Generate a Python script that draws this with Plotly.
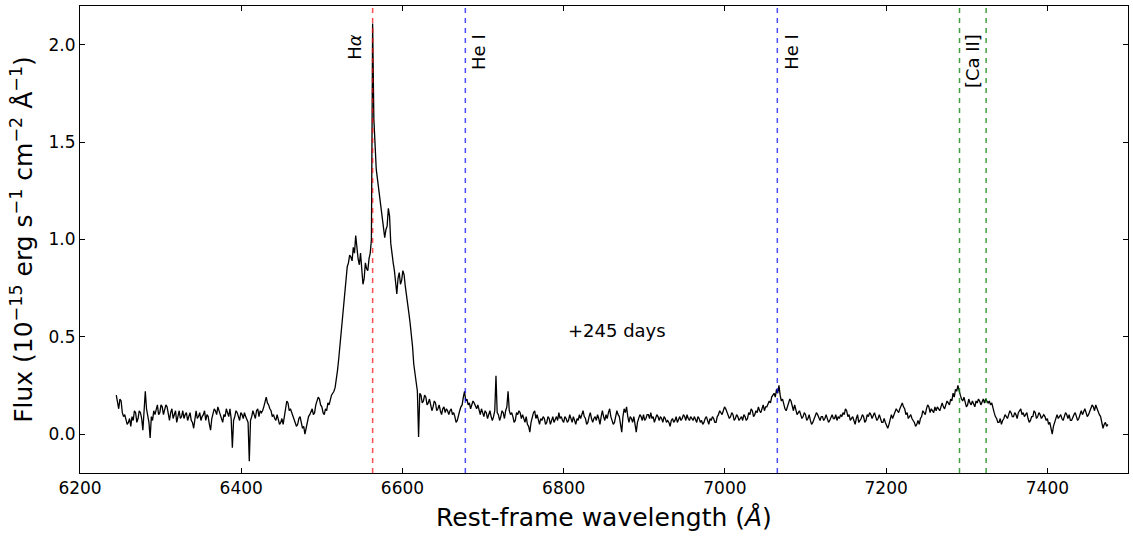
import numpy as np
import plotly.graph_objects as go

# spectrum, 1.5 A sampling, in four pieces
step = 1.5

blue_start = 6245.0
flux_blue = [
    0.20, 0.15, 0.13, 0.18, 0.17, 0.11, 0.09, 0.10, 0.08, 0.05, 0.06, 0.08, 0.04, 0.09, 0.07, 0.12, 0.11, 0.06, 0.08, 0.12,
    0.11, 0.08, 0.02, 0.12, 0.22, 0.13, 0.09, 0.06, -0.02, 0.09, 0.07, 0.12, 0.10, 0.13, 0.15, 0.10, 0.11, 0.15, 0.14, 0.10,
    0.12, 0.15, 0.14, 0.09, 0.07, 0.11, 0.13, 0.08, 0.10, 0.12, 0.06, 0.10, 0.12, 0.08, 0.09, 0.12, 0.08, 0.10, 0.11, 0.07,
    0.09, 0.11, 0.07, 0.06, 0.03, 0.09, 0.12, 0.08, 0.09, 0.11, 0.07, 0.09, 0.10, 0.12, 0.07, 0.10, 0.09, 0.05, 0.02, 0.08,
    0.10, 0.13, 0.12, 0.10, 0.14, 0.12, 0.10, 0.08, 0.06, 0.10, 0.09, 0.13, 0.11, 0.09, 0.13, 0.08, -0.07, 0.07, 0.09, 0.12,
    0.11, 0.09, 0.07, 0.11, 0.10, 0.08, 0.11, 0.09, 0.07, 0.06, -0.14, 0.07, 0.09, 0.12, 0.10, 0.08, 0.12, 0.13, 0.09, 0.12,
    0.11, 0.12, 0.14, 0.17, 0.19, 0.16, 0.15, 0.13, 0.12, 0.09, 0.10, 0.08, 0.07, 0.10, 0.08, 0.05, 0.06, 0.08, 0.05, 0.10,
    0.14, 0.17, 0.16, 0.12, 0.13, 0.11, 0.10, 0.07, 0.06, 0.04, 0.05, 0.08, 0.09, 0.05, 0.03, 0.04, 0.00, 0.03, 0.06, 0.09,
    0.10, 0.12, 0.13, 0.10, 0.11, 0.15, 0.17, 0.19, 0.18, 0.15, 0.14, 0.11, 0.10, 0.13, 0.12, 0.16, 0.15, 0.18, 0.20, 0.21,
]

halpha_start = 6515.0
flux_halpha = [
    0.22, 0.24, 0.28, 0.33, 0.39, 0.46, 0.53, 0.61, 0.68, 0.76, 0.82, 0.86, 0.88, 0.92, 0.91, 0.89, 0.96, 0.93, 1.02, 0.95,
    0.90, 0.87, 0.93, 0.85, 0.77, 0.80, 0.88, 0.85, 0.84, 0.90, 0.93, 1.00, 2.11, 1.62, 1.45, 1.36, 1.31, 1.26, 1.20, 1.17,
    1.12, 1.06, 1.01, 1.05, 1.07, 1.16, 1.12, 0.98, 0.92, 0.88, 0.84, 0.78, 0.72, 0.80, 0.83, 0.77, 0.79, 0.84, 0.82, 0.76,
    0.72, 0.68, 0.62, 0.57, 0.52, 0.45, 0.36, 0.31, 0.26, 0.22, -0.015, 0.21, 0.20, 0.16, 0.17, 0.20,
]

mid_start = 6629.0
flux_mid = [
    0.19, 0.15, 0.16, 0.18, 0.15, 0.12, 0.14, 0.17, 0.16, 0.12, 0.13, 0.15, 0.12, 0.10, 0.13, 0.14, 0.11, 0.13, 0.12, 0.10,
    0.12, 0.13, 0.10, 0.11, 0.09, 0.06, 0.07, 0.10, 0.12, 0.14, 0.15, 0.19, 0.22, 0.17, 0.18, 0.15, 0.16, 0.13, 0.15, 0.17,
    0.16, 0.14, 0.13, 0.15, 0.12, 0.10, 0.13, 0.11, 0.09, 0.12, 0.11, 0.08, 0.10, 0.12, 0.09, 0.07, 0.09, 0.12, 0.30, 0.11,
    0.10, 0.07, 0.09, 0.12, 0.11, 0.08, 0.12, 0.14, 0.22, 0.12, 0.10, 0.11, 0.09, 0.06, 0.07, 0.11, 0.10, 0.12, 0.11, 0.08,
    0.10, 0.08, 0.06, 0.09, 0.05, 0.04, 0.01, 0.06, 0.09, 0.11, 0.12, 0.08, 0.10, 0.07, 0.05, 0.08, 0.07, 0.09, 0.08, 0.05,
    0.06, 0.09, 0.08, 0.05, 0.07, 0.09, 0.06, 0.08, 0.09, 0.07, 0.11, 0.08, 0.09, 0.07, 0.06, 0.09, 0.08, 0.06, 0.07, 0.10,
    0.08, 0.06, 0.09, 0.07, 0.05, 0.08, 0.07, 0.10, 0.08, 0.10, 0.12, 0.09, 0.08, 0.05, 0.06, 0.09, 0.11, 0.08, 0.06, 0.08,
    0.09, 0.07, 0.10, 0.08, 0.05, 0.09, 0.12, 0.09, 0.07, 0.10, 0.08, 0.11, 0.13, 0.09, 0.07, 0.05, 0.06, 0.10, 0.12, 0.10,
    0.09, 0.05, 0.01, 0.09, 0.13, 0.11, 0.14, 0.09, 0.06, 0.09, 0.08, 0.06, 0.09, 0.05, 0.01, 0.06, 0.08, 0.10, 0.09, 0.07,
    0.10, 0.07, 0.08, 0.10, 0.10, 0.08, 0.11, 0.08, 0.09, 0.06, 0.08, 0.10, 0.09, 0.07, 0.09, 0.08, 0.06, 0.09, 0.08, 0.06,
    0.07, 0.06, 0.04, 0.07, 0.08, 0.06, 0.07, 0.09, 0.06, 0.08, 0.09, 0.07, 0.08, 0.10, 0.09, 0.07, 0.10, 0.08, 0.07, 0.09,
    0.08, 0.07, 0.09, 0.07, 0.06, 0.09, 0.08, 0.06, 0.07, 0.05, 0.06, 0.08, 0.09, 0.07, 0.05, 0.08, 0.07, 0.09, 0.08, 0.06,
    0.06, 0.09, 0.10, 0.12, 0.11, 0.10, 0.12, 0.14, 0.13, 0.11, 0.10, 0.08, 0.09, 0.11, 0.10, 0.07, 0.08, 0.10, 0.09, 0.07,
    0.08, 0.09,
]

red_start = 7022.0
flux_red = [
    0.07, 0.10, 0.09, 0.07, 0.08, 0.11, 0.10, 0.13, 0.12, 0.09, 0.10, 0.12, 0.11, 0.14, 0.12, 0.11, 0.13, 0.15, 0.12, 0.14,
    0.14, 0.16, 0.17, 0.16, 0.19, 0.20, 0.21, 0.19, 0.23, 0.21, 0.25, 0.20, 0.17, 0.18, 0.15, 0.13, 0.12, 0.14, 0.16, 0.18,
    0.17, 0.14, 0.12, 0.15, 0.13, 0.10, 0.11, 0.12, 0.10, 0.08, 0.09, 0.11, 0.10, 0.07, 0.08, 0.10, 0.07, 0.05, 0.06, 0.08,
    0.09, 0.11, 0.10, 0.08, 0.07, 0.09, 0.09, 0.07, 0.08, 0.10, 0.08, 0.06, 0.07, 0.09, 0.10, 0.08, 0.08, 0.10, 0.07, 0.09,
    0.08, 0.10, 0.09, 0.11, 0.10, 0.13, 0.12, 0.09, 0.10, 0.07, 0.08, 0.09, 0.07, 0.05, 0.08, 0.10, 0.06, 0.07, 0.08, 0.10,
    0.09, 0.06, 0.07, 0.10, 0.09, 0.11, 0.10, 0.08, 0.10, 0.11, 0.09, 0.07, 0.08, 0.10, 0.08, 0.06, 0.06, 0.08, 0.06, 0.04,
    0.03, 0.05, 0.07, 0.10, 0.08, 0.10, 0.11, 0.13, 0.12, 0.11, 0.13, 0.15, 0.16, 0.14, 0.13, 0.10, 0.11, 0.08, 0.09, 0.10,
    0.08, 0.07, 0.06, 0.04, 0.05, 0.07, 0.05, 0.08, 0.09, 0.12, 0.11, 0.10, 0.13, 0.15, 0.14, 0.11, 0.13, 0.12, 0.11, 0.14,
    0.12, 0.14, 0.13, 0.12, 0.14, 0.16, 0.14, 0.13, 0.15, 0.17, 0.16, 0.15, 0.18, 0.17, 0.21, 0.19, 0.23, 0.22, 0.25, 0.22,
    0.20, 0.18, 0.17, 0.19, 0.17, 0.14, 0.15, 0.18, 0.16, 0.15, 0.17, 0.15, 0.14, 0.17, 0.16, 0.18, 0.17, 0.15, 0.17, 0.18,
    0.16, 0.18, 0.17, 0.16, 0.17, 0.15, 0.16, 0.13, 0.11, 0.09, 0.08, 0.06, 0.06, 0.08, 0.05, 0.07, 0.08, 0.10, 0.09, 0.08,
    0.10, 0.12, 0.11, 0.09, 0.09, 0.11, 0.10, 0.08, 0.11, 0.12, 0.13, 0.10, 0.11, 0.09, 0.10, 0.11, 0.08, 0.06, 0.07, 0.09,
    0.09, 0.12, 0.11, 0.08, 0.09, 0.11, 0.10, 0.08, 0.09, 0.10, 0.09, 0.07, 0.08, 0.05, 0.06, 0.03, 0.00, 0.04, 0.06, 0.09,
    0.10, 0.08, 0.09, 0.10, 0.08, 0.07, 0.09, 0.11, 0.10, 0.08, 0.10, 0.07, 0.07, 0.09, 0.10, 0.11, 0.09, 0.07, 0.08, 0.10,
    0.12, 0.10, 0.12, 0.13, 0.11, 0.09, 0.10, 0.12, 0.13, 0.15, 0.14, 0.12, 0.15, 0.13, 0.12, 0.10, 0.09, 0.05, 0.03, 0.05,
    0.06, 0.04, 0.05,
]

# line markers: rest wavelengths, labels, colours
line_waves = [6563, 6678, 7065, 7291, 7324]
line_colors = ["rgba(255,0,0,0.7)", "rgba(0,0,255,0.7)", "rgba(0,0,255,0.7)",
               "rgba(0,128,0,0.75)", "rgba(0,128,0,0.75)"]
label_texts = ["H<i>α</i>", "He I", "He I", "[Ca II]"]
label_x = [6541, 6695, 7083, 7308]
label_y = [2.067, 2.067, 2.067, 2.067]

epoch = "+245 days"

wave, flux = [], []
for start, vals in [(blue_start, flux_blue), (halpha_start, flux_halpha),
                    (mid_start, flux_mid), (red_start, flux_red)]:
    wave.extend(start + step * np.arange(len(vals)))
    flux.extend(vals)

fig = go.Figure()
fig.add_trace(go.Scatter(x=wave, y=flux, mode="lines",
                         line=dict(color="black", width=1.3), showlegend=False))

for w, c in zip(line_waves, line_colors):
    fig.add_shape(type="line", x0=w, x1=w, y0=0, y1=1, xref="x", yref="paper",
                  line=dict(color=c, width=1.5, dash="5px,5px"))

for t, x, y in zip(label_texts, label_x, label_y):
    fig.add_annotation(x=x, y=y, text=t, textangle=-90, showarrow=False,
                       yanchor="top", font=dict(size=18, color="black"))

fig.add_annotation(x=6866, y=0.53, text=epoch, showarrow=False,
                   font=dict(size=18, color="black"))

axis_common = dict(showline=True, linecolor="black", linewidth=1, mirror="ticks",
                   ticks="inside", ticklen=5, tickcolor="black", showgrid=False,
                   zeroline=False, automargin=False,
                   tickfont=dict(size=17, color="black"))

fig.update_xaxes(range=[6200, 7500], dtick=200, **axis_common,
                 title=dict(text="Rest-frame wavelength (<i>Å</i>)",
                            font=dict(size=25, color="black"), standoff=11))
fig.update_yaxes(range=[-0.2, 2.2], tickvals=[0, 0.5, 1.0, 1.5, 2.0],
                 tickformat=".1f", **axis_common,
                 title=dict(text="Flux (10<sup>−15</sup> erg s<sup>−1</sup> cm<sup>−2</sup> Å<sup>−1</sup>)",
                            font=dict(size=25, color="black"), standoff=8))

fig.update_layout(width=1133, height=537, plot_bgcolor="white", paper_bgcolor="white",
                  font=dict(family="DejaVu Sans"),
                  margin=dict(l=80, r=5, t=6, b=64))

# drop the page's default body margin so the figure sits at the window origin
fix_page = ("document.body.style.margin='0';document.body.style.overflow='hidden';"
            "Plotly.relayout('{plot_id}', {width: 1133, height: 537});")
fig.write_html("out.html", post_script=fix_page, config={"displayModeBar": False})
